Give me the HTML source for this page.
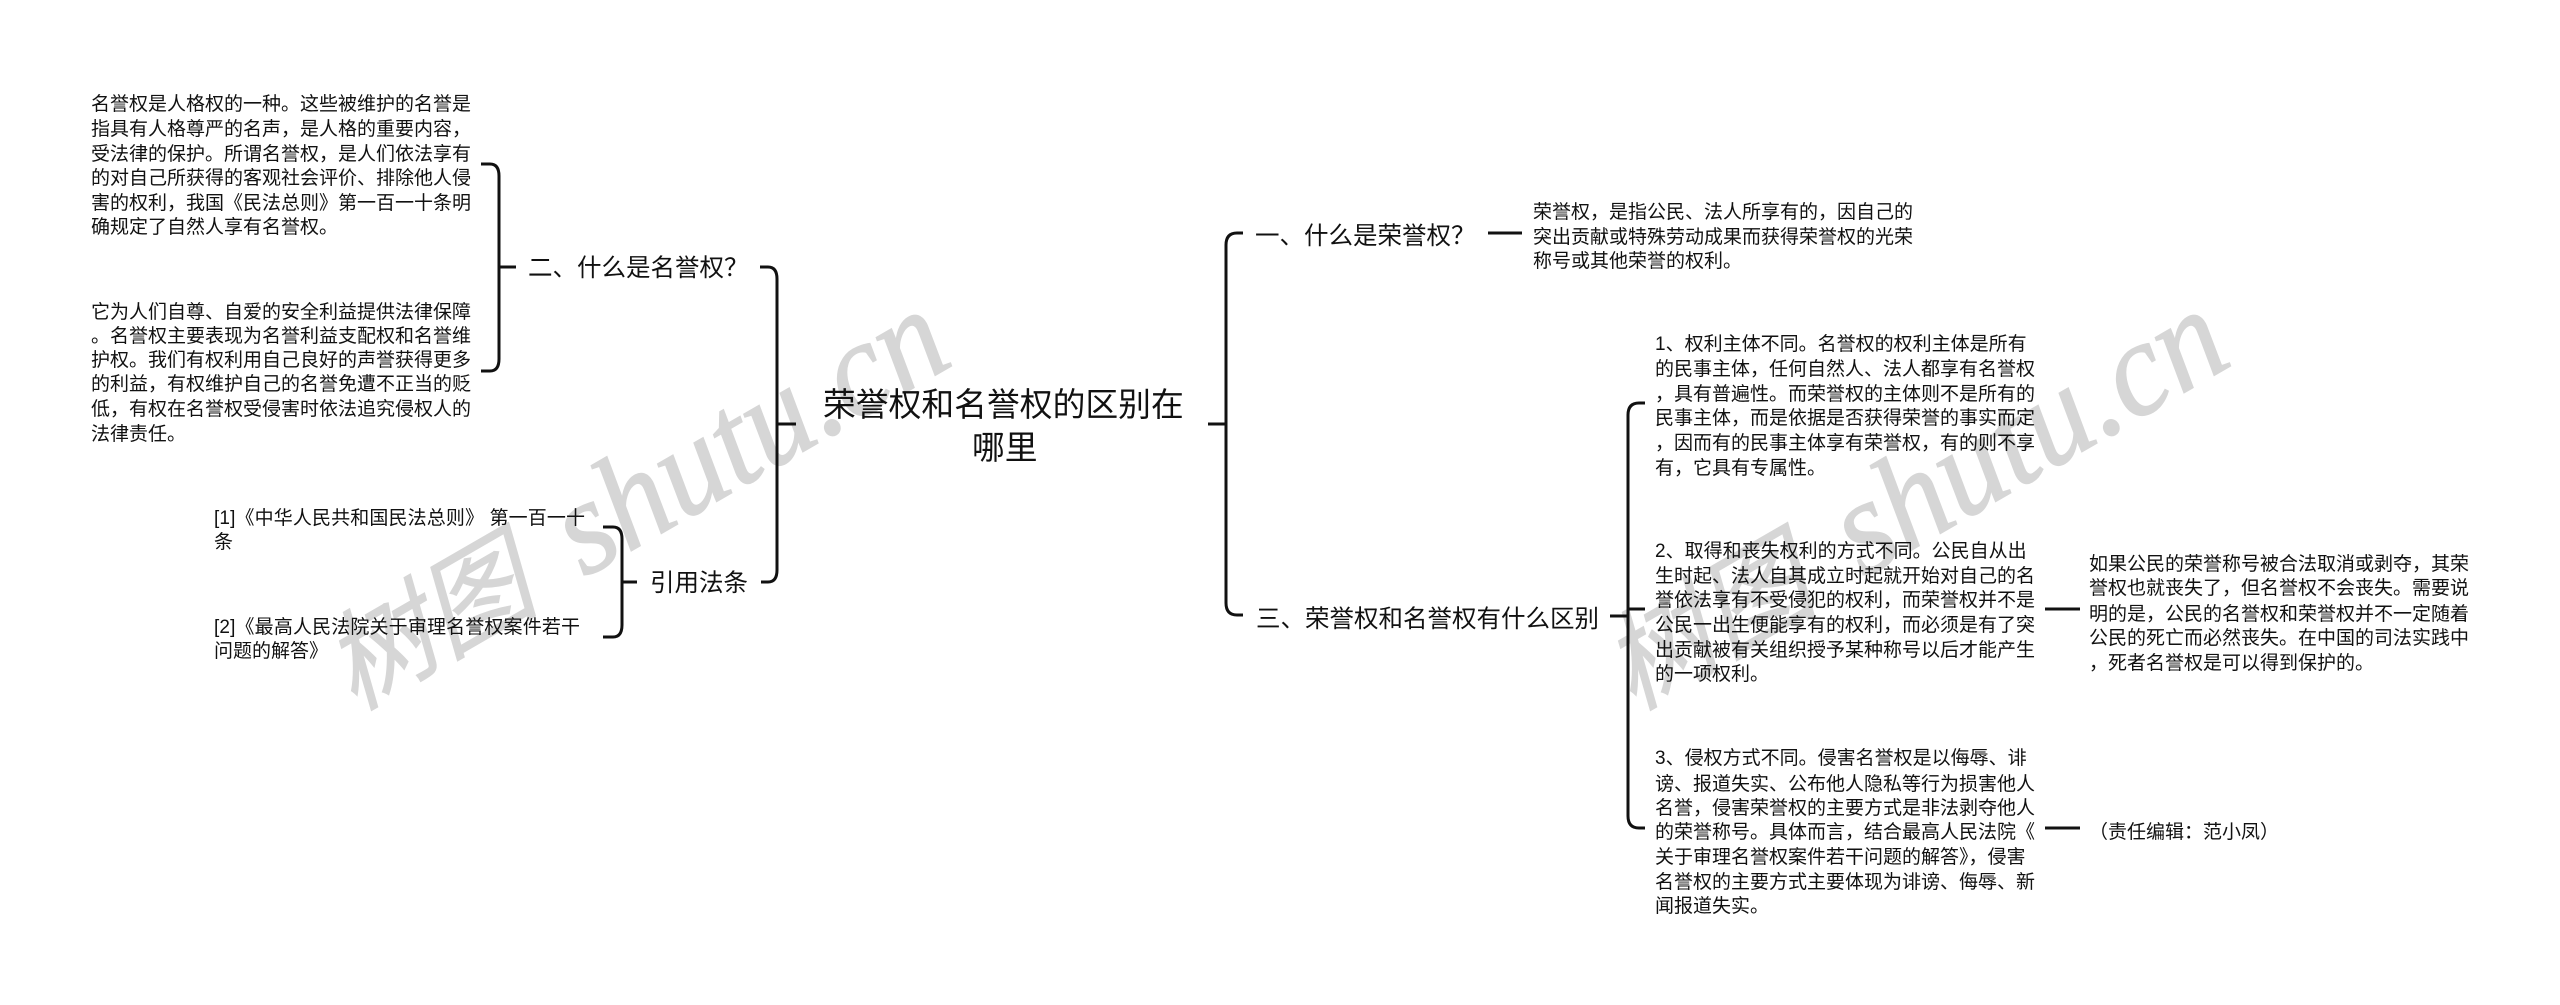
<!DOCTYPE html>
<html lang="zh"><head><meta charset="utf-8"><style>
html,body{margin:0;padding:0;background:#fff}
svg{display:block}
.t{font:19px "Liberation Sans","Noto Sans CJK SC",sans-serif;fill:#111}
.l{font:24.5px "Liberation Sans","Noto Sans CJK SC",sans-serif;fill:#111}
.c{font:32.8px "Liberation Sans","Noto Sans CJK SC",sans-serif;fill:#111}
.w{font:italic 135px "Liberation Serif",serif;fill:#d6d6d6;stroke:#d6d6d6;stroke-width:1.5}
.wc{font:italic 400 108px "Noto Sans CJK SC",sans-serif;fill:#d6d6d6;stroke:#d6d6d6;stroke-width:1}
path{fill:none;stroke:#111;stroke-width:3}
</style></head><body>
<svg width="2560" height="1005" viewBox="0 0 2560 1005" xmlns="http://www.w3.org/2000/svg">
<g transform="translate(378,697) rotate(-30)"><text class="wc" x="-28" y="0">树图</text><text class="w" x="238" y="0" textLength="430" lengthAdjust="spacingAndGlyphs">shutu.cn</text></g>
<g transform="translate(1657,697) rotate(-30)"><text class="wc" x="-28" y="0">树图</text><text class="w" x="238" y="0" textLength="430" lengthAdjust="spacingAndGlyphs">shutu.cn</text></g>

<path d="M481,164 H490 Q499,164 499,176 V359 Q499,371 490,371 H481 M499,267 H516"/>
<path d="M760,267 H768 Q777,267 777,279 V570 Q777,582 768,582 H761 M777,424 H796"/>
<path d="M603,527 H613 Q622,527 622,539 V625 Q622,637 613,637 H603 M622,582 H637"/>
<path d="M1208,424 H1225 M1243,233 H1237 Q1226,233 1226,245 V603 Q1226,615 1237,615 H1243"/>
<path d="M1488,233 H1522"/>
<path d="M1610,616 H1627 M1645,403 H1639 Q1628,403 1628,415 V816 Q1628,828 1639,828 H1645 M1628,609 H1645"/>
<path d="M2045,609 H2080 M2045,828 H2080"/>

<text class="c" x="823" y="416">荣誉权和名誉权的区别在</text>
<text class="c" x="972" y="459">哪里</text>
<text class="l" x="528" y="276">二、什么是名誉权？</text>
<text class="l" x="650" y="591">引用法条</text>
<text class="l" x="1255" y="244">一、什么是荣誉权？</text>
<text class="l" x="1256" y="627">三、荣誉权和名誉权有什么区别</text>

<text class="t" x="91" y="110">名誉权是人格权的一种。这些被维护的名誉是</text>
<text class="t" x="91" y="135">指具有人格尊严的名声，是人格的重要内容，</text>
<text class="t" x="91" y="160">受法律的保护。所谓名誉权，是人们依法享有</text>
<text class="t" x="91" y="184">的对自己所获得的客观社会评价、排除他人侵</text>
<text class="t" x="91" y="209">害的权利，我国《民法总则》第一百一十条明</text>
<text class="t" x="91" y="233">确规定了自然人享有名誉权。</text>

<text class="t" x="91" y="318">它为人们自尊、自爱的安全利益提供法律保障</text>
<text class="t" x="91" y="342">。名誉权主要表现为名誉利益支配权和名誉维</text>
<text class="t" x="91" y="366">护权。我们有权利用自己良好的声誉获得更多</text>
<text class="t" x="91" y="390">的利益，有权维护自己的名誉免遭不正当的贬</text>
<text class="t" x="91" y="415">低，有权在名誉权受侵害时依法追究侵权人的</text>
<text class="t" x="91" y="440">法律责任。</text>

<text class="t" x="214" y="524" textLength="371">[1]《中华人民共和国民法总则》 第一百一十</text>
<text class="t" x="214" y="548">条</text>
<text class="t" x="214" y="633" textLength="366">[2]《最高人民法院关于审理名誉权案件若干</text>
<text class="t" x="214" y="657">问题的解答》</text>

<text class="t" x="1533" y="218">荣誉权，是指公民、法人所享有的，因自己的</text>
<text class="t" x="1533" y="243">突出贡献或特殊劳动成果而获得荣誉权的光荣</text>
<text class="t" x="1533" y="267">称号或其他荣誉的权利。</text>

<text class="t" x="1655" y="350">1、权利主体不同。名誉权的权利主体是所有</text>
<text class="t" x="1655" y="375">的民事主体，任何自然人、法人都享有名誉权</text>
<text class="t" x="1655" y="400">，具有普遍性。而荣誉权的主体则不是所有的</text>
<text class="t" x="1655" y="424">民事主体，而是依据是否获得荣誉的事实而定</text>
<text class="t" x="1655" y="449">，因而有的民事主体享有荣誉权，有的则不享</text>
<text class="t" x="1655" y="474">有，它具有专属性。</text>

<text class="t" x="1655" y="557">2、取得和丧失权利的方式不同。公民自从出</text>
<text class="t" x="1655" y="582">生时起、法人自其成立时起就开始对自己的名</text>
<text class="t" x="1655" y="606">誉依法享有不受侵犯的权利，而荣誉权并不是</text>
<text class="t" x="1655" y="631">公民一出生便能享有的权利，而必须是有了突</text>
<text class="t" x="1655" y="656">出贡献被有关组织授予某种称号以后才能产生</text>
<text class="t" x="1655" y="680">的一项权利。</text>

<text class="t" x="1655" y="764">3、侵权方式不同。侵害名誉权是以侮辱、诽</text>
<text class="t" x="1655" y="790">谤、报道失实、公布他人隐私等行为损害他人</text>
<text class="t" x="1655" y="814">名誉，侵害荣誉权的主要方式是非法剥夺他人</text>
<text class="t" x="1655" y="838">的荣誉称号。具体而言，结合最高人民法院《</text>
<text class="t" x="1655" y="863">关于审理名誉权案件若干问题的解答》，侵害</text>
<text class="t" x="1655" y="888">名誉权的主要方式主要体现为诽谤、侮辱、新</text>
<text class="t" x="1655" y="912">闻报道失实。</text>

<text class="t" x="2089" y="570">如果公民的荣誉称号被合法取消或剥夺，其荣</text>
<text class="t" x="2089" y="594">誉权也就丧失了，但名誉权不会丧失。需要说</text>
<text class="t" x="2089" y="620">明的是，公民的名誉权和荣誉权并不一定随着</text>
<text class="t" x="2089" y="644">公民的死亡而必然丧失。在中国的司法实践中</text>
<text class="t" x="2089" y="669">，死者名誉权是可以得到保护的。</text>

<text class="t" x="2089" y="838">（责任编辑：范小凤）</text>
</svg>
</body></html>
